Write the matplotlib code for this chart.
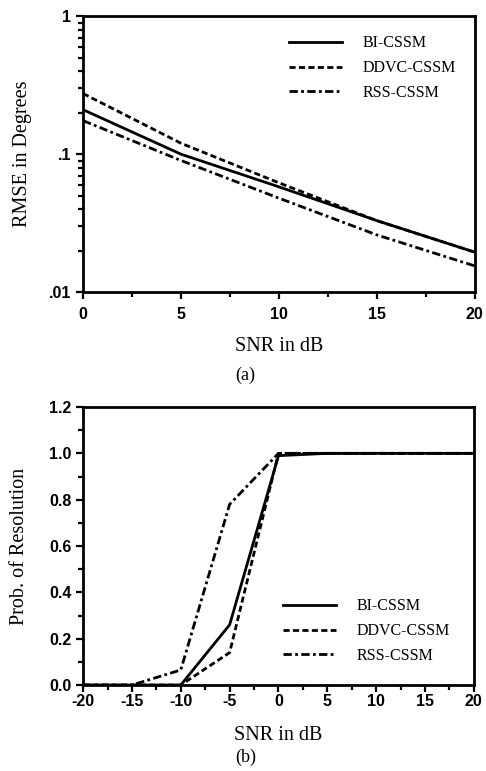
import matplotlib.pyplot as plt
from matplotlib.ticker import FixedLocator, NullFormatter

plt.rcParams['axes.unicode_minus'] = False

# (a) RMSE vs SNR
snrA = [0, 5, 10, 15, 20]
rmseBI = [0.21, 0.10, 0.058, 0.033, 0.0195]
rmseDDVC = [0.275, 0.12, 0.062, 0.033, 0.0195]
rmseRSS = [0.175, 0.09, 0.048, 0.026, 0.0155]

# (b) probability of resolution vs SNR
snrB = [-20, -15, -10, -5, 0, 5, 10, 15, 20]
probBI = [0, 0, 0, 0.26, 0.99, 1.0, 1.0, 1.0, 1.0]
probDDVC = [0, 0, 0, 0.14, 1.0, 1.0, 1.0, 1.0, 1.0]
probRSS = [0, 0, 0.065, 0.78, 1.0, 1.0, 1.0, 1.0, 1.0]

names = ['BI-CSSM', 'DDVC-CSSM', 'RSS-CSSM']
styles = ['-', (0, (2.2, 1.2)), (0, (3, 1.2, 1, 1.2))]

serif = 'Liberation Serif'
sans = 'Liberation Sans'

fig = plt.figure(figsize=(4.86, 7.71), dpi=100)
axA = fig.add_axes([0.171, 0.621, 0.806, 0.358])
axB = fig.add_axes([0.171, 0.1115, 0.804, 0.3606])


def style_axes(ax, xpad):
	for s in ax.spines.values():
		s.set_linewidth(2.0)
	ax.tick_params(which='both', direction='out', width=1.6, top=False, right=False)
	ax.tick_params(which='major', length=5)
	ax.tick_params(which='minor', length=3.5)
	ax.tick_params(axis='x', which='major', pad=xpad)
	for lab in ax.get_xticklabels() + ax.get_yticklabels():
		lab.set_fontfamily(sans)
		lab.set_fontweight('bold')
		lab.set_fontsize(11.5)


for y, ls, n in zip([rmseBI, rmseDDVC, rmseRSS], styles, names):
	axA.plot(snrA, y, color='black', linestyle=ls, linewidth=2.0, label=n)
axA.set_yscale('log')
axA.set_xlim(0, 20)
axA.set_ylim(0.01, 1)
axA.set_xticks([0, 5, 10, 15, 20])
axA.xaxis.set_minor_locator(FixedLocator([2.5, 7.5, 12.5, 17.5]))
axA.set_yticks([0.01, 0.1, 1])
axA.set_yticklabels(['.01', '.1', '1'])
axA.yaxis.set_minor_formatter(NullFormatter())
style_axes(axA, 5.5)
axA.set_xlabel('SNR in dB', fontfamily=serif, fontsize=14.5, labelpad=11)
axA.set_ylabel('RMSE in Degrees', fontfamily=serif, fontsize=14.5, labelpad=12)
axA.legend(loc='upper right', frameon=False, handlelength=3.3, handletextpad=1.3,
	prop={'family': serif, 'size': 11.5}, borderaxespad=0.8, labelspacing=0.55)

for y, ls, n in zip([probBI, probDDVC, probRSS], styles, names):
	axB.plot(snrB, y, color='black', linestyle=ls, linewidth=2.0, label=n)
axB.set_xlim(-20, 20)
axB.set_ylim(0, 1.2)
axB.set_xticks([-20, -15, -10, -5, 0, 5, 10, 15, 20])
axB.xaxis.set_minor_locator(FixedLocator([-17.5, -12.5, -7.5, -2.5, 2.5, 7.5, 12.5, 17.5]))
axB.set_yticks([0, 0.2, 0.4, 0.6, 0.8, 1.0, 1.2])
axB.set_yticklabels(['0.0', '0.2', '0.4', '0.6', '0.8', '1.0', '1.2'])
axB.yaxis.set_minor_locator(FixedLocator([0.1, 0.3, 0.5, 0.7, 0.9, 1.1]))
style_axes(axB, 1.5)
axB.set_xlabel('SNR in dB', fontfamily=serif, fontsize=14.5, labelpad=12.5)
axB.set_ylabel('Prob. of Resolution', fontfamily=serif, fontsize=14.5, labelpad=14)
axB.legend(loc='lower right', bbox_to_anchor=(0.975, 0.024), frameon=False, handlelength=3.3,
	handletextpad=1.3, prop={'family': serif, 'size': 11.5}, labelspacing=0.55)

fig.text(0.505, 0.513, '(a)', ha='center', va='center', fontfamily=serif, fontsize=13)
fig.text(0.505, 0.018, '(b)', ha='center', va='center', fontfamily=serif, fontsize=13)

plt.savefig('out.png', dpi=100)
